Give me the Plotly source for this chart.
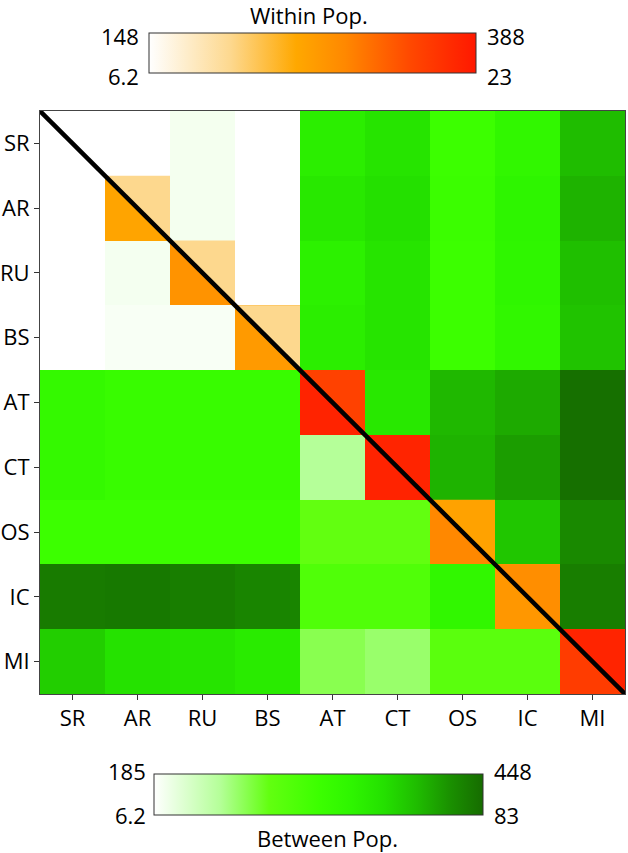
import plotly.graph_objects as go
from plotly.colors import sample_colorscale

# ---------------- data ----------------
pops = ["SR", "AR", "RU", "BS", "AT", "CT", "OS", "IC", "MI"]

# within-population values on the diagonal (upper-right half / lower-left half)
within_upper = [148, 208, 208, 208, 347, 376, 263, 285, 376]
within_lower = [6.2, 14.1, 15.4, 14.9, 22.2, 22.2, 16.3, 15.1, 20.5]

# between-population values: above diagonal (upper scale), below diagonal (lower scale)
between = [
    [None, 185, 193, 185, 351, 364, 317, 338, 395],
    [6.2, None, 193, 185, 359, 369, 319, 343, 401],
    [6.2, 8.5, None, 185, 348, 364, 317, 340, 393],
    [6.2, 7.7, 7.7, None, 351, 364, 317, 338, 390],
    [49.2, 46.9, 46.9, 46.9, None, 359, 398, 406, 445],
    [49.2, 46.9, 46.9, 46.9, 21.6, None, 401, 414, 445],
    [44.6, 44.6, 44.6, 44.6, 33.1, 33.1, None, 388, 427],
    [79.9, 80.3, 79.2, 77.6, 38.5, 38.5, 50.7, None, 435],
    [63.8, 59.2, 58.4, 56.1, 27.7, 25.4, 35.4, 35.4, None],
]

within_upper_range = [148, 388]
within_lower_range = [6.2, 23]
between_upper_range = [185, 448]
between_lower_range = [6.2, 83]

within_labels = {"ul": "148", "ll": "6.2", "ur": "388", "lr": "23"}
between_labels = {"ul": "185", "ll": "6.2", "ur": "448", "lr": "83"}

# ---------------- styles ----------------
orange_scale = [[0.0, "#FFFFFF"], [0.25, "#FDD88E"], [0.45, "#FFA800"],
                [0.6, "#FF8800"], [0.8, "#FF4800"], [1.0, "#FF1800"]]
green_scale = [[0.0, "#FFFFFF"], [0.2, "#B5FF99"], [0.35, "#62FF10"],
               [0.5, "#3CFF00"], [0.6, "#2EF500"], [0.7, "#24E000"],
               [0.8, "#1FBC00"], [0.9, "#1A9000"], [1.0, "#166C00"]]
FONT = "Open Sans, Noto Sans, DejaVu Sans, sans-serif"
FS = 22
W, H = 628, 853


def norm(v, rng):
    return (v - rng[0]) / (rng[1] - rng[0])


n = len(pops)
idx = list(range(n))

between_norm = []
for i in range(n):
    row = []
    for j in range(n):
        v = between[i][j]
        if v is None:
            row.append(None)
        elif j > i:
            row.append(norm(v, between_upper_range))
        else:
            row.append(norm(v, between_lower_range))
    between_norm.append(row)

diag_lower = [[norm(within_lower[i], within_lower_range) if i == j else None
               for j in range(n)] for i in range(n)]

fig = go.Figure()

fig.add_trace(go.Heatmap(x=idx, y=idx, z=between_norm, coloraxis="coloraxis",
                         hoverongaps=False))
fig.add_trace(go.Heatmap(x=idx, y=idx, z=diag_lower, coloraxis="coloraxis2",
                         hoverongaps=False))

# upper-right halves of the diagonal cells
for i in range(n):
    t = norm(within_upper[i], within_upper_range)
    col = sample_colorscale(orange_scale, [t])[0]
    fig.add_trace(go.Scatter(
        x=[i - 0.5, i + 0.5, i + 0.5, i - 0.5],
        y=[i - 0.5, i - 0.5, i + 0.5, i - 0.5],
        mode="lines", fill="toself", fillcolor=col,
        line=dict(width=0, color=col), showlegend=False, hoverinfo="skip"))

# diagonal line
fig.add_trace(go.Scatter(x=[-0.5, n - 0.5], y=[-0.5, n - 0.5], mode="lines",
                         line=dict(color="black", width=4.5),
                         showlegend=False, hoverinfo="skip"))

# screen pixel -> paper fraction
px_x = lambda p: p / W
px_y = lambda p: (H - p) / H

axis_common = dict(showgrid=False, zeroline=False, showline=True,
                   linecolor="#444", linewidth=1, mirror=True,
                   ticks="outside", ticklen=5, tickcolor="#333",
                   tickvals=idx, ticktext=pops,
                   tickfont=dict(family=FONT, size=FS, color="#000"))

fig.update_layout(
    width=W, height=H,
    margin=dict(l=0, r=0, t=0, b=0, autoexpand=False),
    paper_bgcolor="white", plot_bgcolor="white",
    showlegend=False,
    xaxis=dict(domain=[px_x(40), px_x(625)], range=[-0.5, n - 0.5], **axis_common),
    yaxis=dict(domain=[px_y(694), px_y(111)], range=[n - 0.5, -0.5], **axis_common),
    coloraxis=dict(
        colorscale=green_scale, cmin=0, cmax=1,
        colorbar=dict(orientation="h", x=px_x(318.5), xanchor="center",
                      y=px_y(774), yanchor="top", len=329, lenmode="pixels",
                      thickness=41, thicknessmode="pixels", xpad=0, ypad=0,
                      outlinecolor="#333", outlinewidth=1,
                      showticklabels=False, ticks="")),
    coloraxis2=dict(
        colorscale=orange_scale, cmin=0, cmax=1,
        colorbar=dict(orientation="h", x=px_x(312.5), xanchor="center",
                      y=px_y(33), yanchor="top", len=327, lenmode="pixels",
                      thickness=40, thicknessmode="pixels", xpad=0, ypad=0,
                      outlinecolor="#333", outlinewidth=1,
                      showticklabels=False, ticks="")),
)

annots = []


def add_text(txt, x, y, xanchor):
    annots.append(dict(text=txt, x=px_x(x), y=px_y(y), xref="paper", yref="paper",
                       xanchor=xanchor, yanchor="middle", showarrow=False,
                       font=dict(family=FONT, size=FS, color="#000")))


add_text("Within Pop.", 309, 15, "center")
add_text(within_labels["ul"], 141, 36, "right")
add_text(within_labels["ll"], 141, 76, "right")
add_text(within_labels["ur"], 485, 36, "left")
add_text(within_labels["lr"], 485, 76, "left")

add_text("Between Pop.", 327, 838, "center")
add_text(between_labels["ul"], 148, 771, "right")
add_text(between_labels["ll"], 148, 815, "right")
add_text(between_labels["ur"], 492, 771, "left")
add_text(between_labels["lr"], 492, 815, "left")

fig.update_layout(annotations=annots)

# remove the default page margin so the figure sits at the window's corner
fig.write_html("out.html",
               config={"displayModeBar": False},
               post_script="document.body.style.margin='0px';"
                           "document.body.style.overflow='hidden';")
